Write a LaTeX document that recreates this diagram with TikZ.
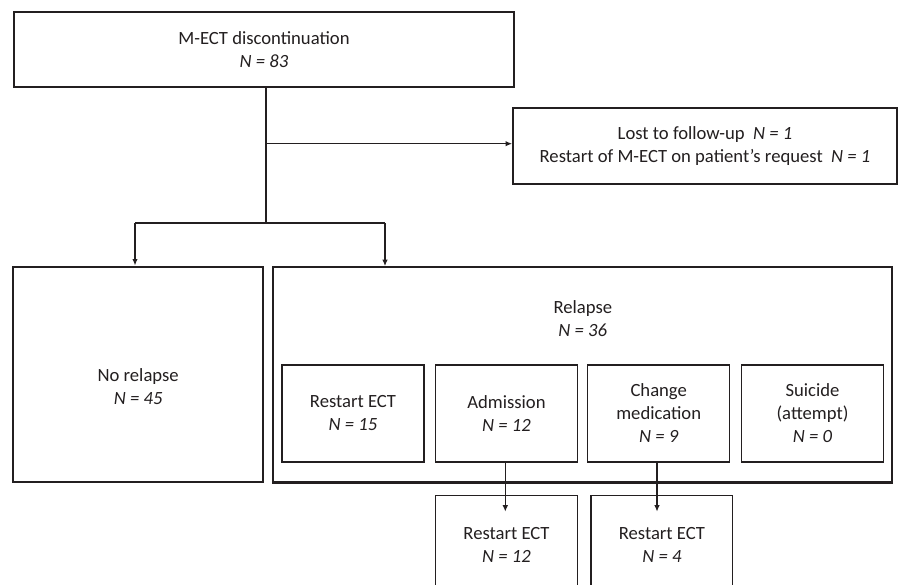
\documentclass[tikz,border=0pt]{standalone}
\usepackage{fontspec}
\setmainfont{Carlito}
\usetikzlibrary{arrows.meta}
\definecolor{ink}{HTML}{231F20}
\begin{document}
\begin{tikzpicture}[x=1pt,y=-1pt,
  every node/.style={font=\fontsize{18.65}{23}\selectfont, text=ink, align=center, inner sep=0pt},
  boxthin/.style={draw=ink, rectangle, line width=1.4pt},
  boxmid/.style={draw=ink, rectangle, line width=1.7pt},
  boxthick/.style={draw=ink, rectangle, line width=2.3pt},
  conn/.style={draw=ink, line width=1.3pt},
  arr/.style={conn, -{Latex[length=6.5pt,width=5.5pt]}}
]
\useasboundingbox (0,0) rectangle (899,585);
\clip (0,0) rectangle (899,585);
\fill[white] (0,0) rectangle (899,585);

% top row
\node[boxmid, minimum width=500pt, minimum height=75.3pt] (top) at (264,49.65)
  {M-ECT discontinuation\\ \textit{N = 83}};
\node[boxmid, minimum width=384pt, minimum height=76pt] (lost) at (705,146)
  {Lost to follow-up\hspace{0.45em}\textit{N = 1}\\ Restart of M-ECT on patient’s request\hspace{0.45em}\textit{N = 1}};

% second row
\node[boxthick, minimum width=249.7pt, minimum height=215.6pt] (norel) at (138.15,374.5) {};
\node (norelt) at (138.15,387) {No relapse\\ \textit{N = 45}};
\node[boxthick, minimum width=619pt, minimum height=215.2pt] (rel) at (582.8,374.9) {};
\node (relt) at (582.8,318.5) {Relapse\\ \textit{N = 36}};

% inner boxes
\node[boxthin, minimum width=142pt, minimum height=97pt] (rect) at (353,413.5) {Restart ECT\\ \textit{N = 15}};
\node[boxthin, minimum width=142pt, minimum height=97pt] (adm) at (506.5,413.5) {Admission\\ \textit{N = 12}};
\node[boxthin, minimum width=142pt, minimum height=97pt] (med) at (658.7,413.5) {Change\\ medication\\ \textit{N = 9}};
\node[boxthin, minimum width=142pt, minimum height=97pt] (sui) at (812.5,413.5) {Suicide\\ (attempt)\\ \textit{N = 0}};

% bottom boxes
\node[boxthin, minimum width=141.6pt, minimum height=98.6pt] (r1) at (506.5,545) {Restart ECT\\ \textit{N = 12}};
\node[boxthin, minimum width=141.7pt, minimum height=98.6pt] (r2) at (661.9,545) {Restart ECT\\ \textit{N = 4}};

% connectors
\coordinate (j1) at (266,143.7);
\coordinate (hL) at (135,223);
\coordinate (hR) at (385,223);
\coordinate (hM) at (266,223);
\draw[conn] (266,87.3) -- (hM);
\draw[arr] (j1) -- (j1 -| lost.west);
\draw[conn] (hL) -- (hR);
\draw[arr] (hL) -- (hL |- norel.north);
\draw[arr] (hR) -- (hR |- rel.north);
\coordinate (t1) at (505.3,511.7);
\coordinate (t2) at (657,511.7);
\draw[arr] (adm.south -| t1) -- (t1);
\draw[arr] (med.south -| t2) -- (t2);
\end{tikzpicture}
\end{document}
